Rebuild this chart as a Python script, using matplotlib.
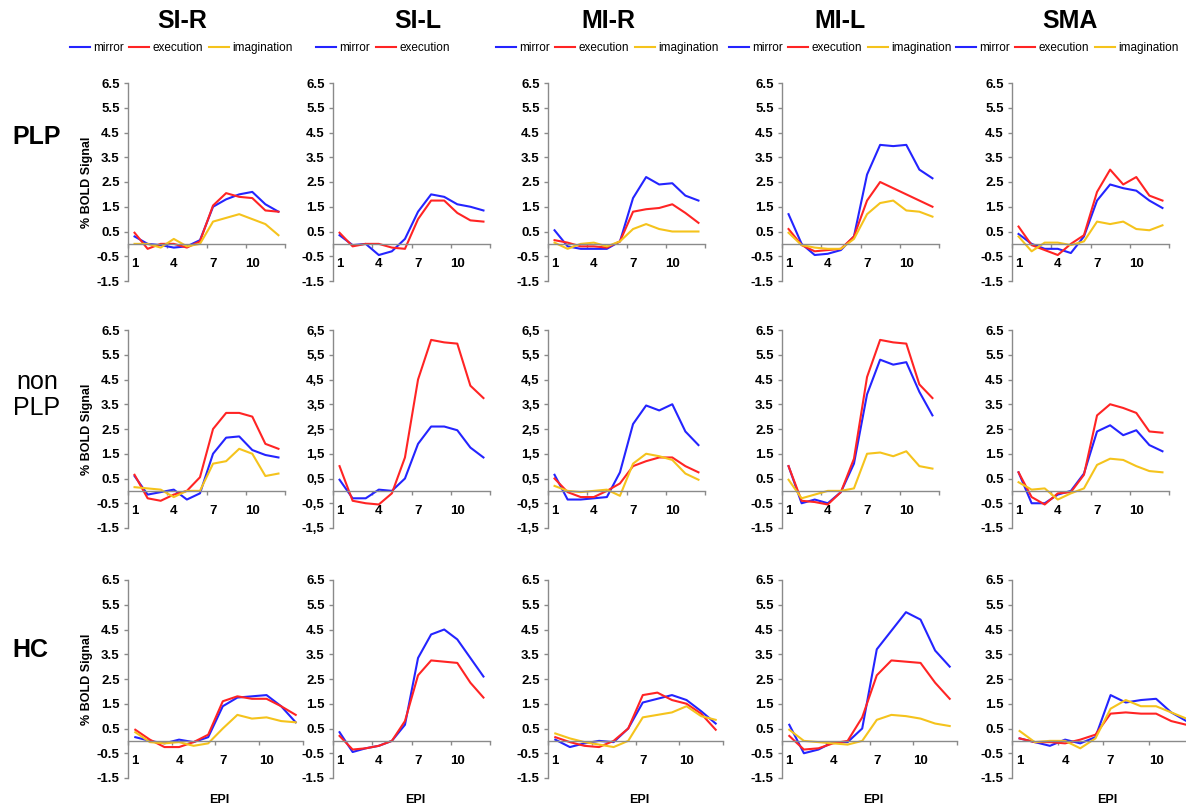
import matplotlib.pyplot as plt
from matplotlib.lines import Line2D

plt.rcParams['font.family'] = ['Liberation Sans', 'DejaVu Sans']

# regions (columns) and groups (rows)
regions = ['SI-R', 'SI-L', 'MI-R', 'MI-L', 'SMA']
groups = ['PLP', 'non\nPLP', 'HC']
epi = list(range(1, 13))
yticks = [-1.5, -0.5, 0.5, 1.5, 2.5, 3.5, 4.5, 5.5, 6.5]

# ---- PLP ----
sir_plp_mirror = [0.3, 0.0, -0.05, -0.15, -0.1, 0.15, 1.5, 1.8, 2.0, 2.1, 1.6, 1.3]
sir_plp_exec = [0.45, -0.2, 0.0, 0.0, -0.15, 0.1, 1.55, 2.05, 1.9, 1.85, 1.35, 1.3]
sir_plp_imag = [0.0, 0.0, -0.15, 0.2, -0.1, 0.0, 0.9, 1.05, 1.2, 1.0, 0.8, 0.35]

sil_plp_mirror = [0.35, -0.05, 0.0, -0.45, -0.3, 0.2, 1.3, 2.0, 1.9, 1.6, 1.5, 1.35]
sil_plp_exec = [0.45, -0.1, 0.0, 0.0, -0.15, -0.2, 1.0, 1.75, 1.75, 1.25, 0.95, 0.9]

mir_plp_mirror = [0.55, -0.1, -0.2, -0.2, -0.2, 0.1, 1.85, 2.7, 2.4, 2.45, 1.95, 1.75]
mir_plp_exec = [0.15, 0.05, -0.1, -0.1, -0.15, 0.1, 1.3, 1.4, 1.45, 1.6, 1.25, 0.85]
mir_plp_imag = [0.05, -0.2, 0.0, 0.05, -0.1, 0.1, 0.6, 0.8, 0.6, 0.5, 0.5, 0.5]

mil_plp_mirror = [1.2, 0.0, -0.45, -0.4, -0.25, 0.3, 2.8, 4.0, 3.95, 4.0, 3.0, 2.65]
mil_plp_exec = [0.6, -0.05, -0.3, -0.25, -0.2, 0.3, 1.75, 2.5, 2.25, 2.0, 1.75, 1.5]
mil_plp_imag = [0.45, -0.05, -0.15, -0.2, -0.2, 0.2, 1.2, 1.65, 1.75, 1.35, 1.3, 1.1]

sma_plp_mirror = [0.4, 0.0, -0.2, -0.2, -0.37, 0.3, 1.75, 2.4, 2.25, 2.15, 1.75, 1.45]
sma_plp_exec = [0.7, -0.05, -0.25, -0.45, 0.0, 0.35, 2.1, 3.0, 2.4, 2.7, 1.95, 1.75]
sma_plp_imag = [0.3, -0.3, 0.05, 0.05, -0.05, 0.1, 0.9, 0.8, 0.9, 0.6, 0.55, 0.75]

# ---- non PLP ----
sir_non_mirror = [0.6, -0.15, -0.05, 0.05, -0.35, -0.1, 1.5, 2.15, 2.2, 1.65, 1.45, 1.35]
sir_non_exec = [0.65, -0.3, -0.4, -0.15, 0.0, 0.55, 2.5, 3.15, 3.15, 3.0, 1.9, 1.7]
sir_non_imag = [0.15, 0.1, 0.05, -0.25, 0.0, 0.0, 1.1, 1.2, 1.7, 1.5, 0.6, 0.7]

sil_non_mirror = [0.45, -0.3, -0.3, 0.05, 0.0, 0.5, 1.9, 2.6, 2.6, 2.45, 1.75, 1.35]
sil_non_exec = [1.0, -0.4, -0.5, -0.55, -0.1, 1.35, 4.5, 6.1, 6.0, 5.95, 4.25, 3.75]

mir_non_mirror = [0.65, -0.35, -0.35, -0.3, -0.25, 0.75, 2.7, 3.45, 3.25, 3.5, 2.4, 1.85]
mir_non_exec = [0.5, -0.05, -0.25, -0.25, 0.0, 0.3, 1.0, 1.2, 1.35, 1.35, 1.0, 0.75]
mir_non_imag = [0.2, 0.0, -0.05, 0.0, 0.05, -0.2, 1.1, 1.5, 1.4, 1.25, 0.7, 0.45]

mil_non_mirror = [1.0, -0.5, -0.35, -0.5, -0.05, 1.1, 3.9, 5.3, 5.1, 5.2, 4.0, 3.05]
mil_non_exec = [1.0, -0.4, -0.45, -0.55, -0.05, 1.3, 4.6, 6.1, 6.0, 5.95, 4.3, 3.75]
mil_non_imag = [0.45, -0.3, -0.15, 0.0, 0.0, 0.1, 1.5, 1.55, 1.4, 1.6, 1.0, 0.9]

sma_non_mirror = [0.75, -0.5, -0.5, -0.15, 0.0, 0.7, 2.4, 2.65, 2.25, 2.45, 1.85, 1.6]
sma_non_exec = [0.75, -0.25, -0.55, -0.1, -0.05, 0.65, 3.05, 3.5, 3.35, 3.15, 2.4, 2.35]
sma_non_imag = [0.35, 0.05, 0.1, -0.35, -0.1, 0.1, 1.05, 1.3, 1.25, 1.0, 0.8, 0.75]

# ---- HC ----
sir_hc_mirror = [0.15, 0.0, -0.1, 0.05, -0.05, 0.15, 1.4, 1.75, 1.8, 1.85, 1.4, 0.75]
sir_hc_exec = [0.45, 0.05, -0.25, -0.25, -0.05, 0.25, 1.6, 1.8, 1.7, 1.7, 1.4, 1.05]
sir_hc_imag = [0.35, -0.05, -0.1, -0.05, -0.2, -0.1, 0.5, 1.05, 0.9, 0.95, 0.8, 0.75]

sil_hc_mirror = [0.35, -0.45, -0.3, -0.2, 0.0, 0.65, 3.35, 4.3, 4.5, 4.1, 3.35, 2.6]
sil_hc_exec = [0.2, -0.35, -0.3, -0.2, 0.0, 0.8, 2.65, 3.25, 3.2, 3.15, 2.35, 1.75]

mir_hc_mirror = [0.05, -0.25, -0.1, 0.0, -0.05, 0.5, 1.55, 1.7, 1.85, 1.65, 1.2, 0.7]
mir_hc_exec = [0.15, -0.05, -0.2, -0.25, 0.0, 0.5, 1.85, 1.95, 1.65, 1.5, 1.1, 0.45]
mir_hc_imag = [0.3, 0.1, -0.05, -0.15, -0.25, 0.0, 0.95, 1.05, 1.15, 1.4, 1.0, 0.85]

mil_hc_mirror = [0.65, -0.5, -0.35, -0.05, -0.05, 0.5, 3.7, 4.45, 5.2, 4.9, 3.65, 3.0]
mil_hc_exec = [0.2, -0.35, -0.3, -0.1, 0.0, 0.95, 2.65, 3.25, 3.2, 3.15, 2.35, 1.7]
mil_hc_imag = [0.45, 0.0, -0.05, -0.1, -0.15, 0.0, 0.85, 1.05, 1.0, 0.9, 0.7, 0.6]

sma_hc_mirror = [0.1, -0.05, -0.2, 0.05, -0.1, 0.15, 1.85, 1.55, 1.65, 1.7, 1.15, 0.8]
sma_hc_exec = [0.1, -0.05, -0.05, -0.1, 0.05, 0.25, 1.1, 1.15, 1.1, 1.1, 0.8, 0.65]
sma_hc_imag = [0.4, -0.05, 0.0, 0.0, -0.3, 0.1, 1.3, 1.65, 1.4, 1.4, 1.15, 0.9]

data = [
    [(sir_plp_mirror, sir_plp_exec, sir_plp_imag), (sil_plp_mirror, sil_plp_exec, None),
     (mir_plp_mirror, mir_plp_exec, mir_plp_imag), (mil_plp_mirror, mil_plp_exec, mil_plp_imag),
     (sma_plp_mirror, sma_plp_exec, sma_plp_imag)],
    [(sir_non_mirror, sir_non_exec, sir_non_imag), (sil_non_mirror, sil_non_exec, None),
     (mir_non_mirror, mir_non_exec, mir_non_imag), (mil_non_mirror, mil_non_exec, mil_non_imag),
     (sma_non_mirror, sma_non_exec, sma_non_imag)],
    [(sir_hc_mirror, sir_hc_exec, sir_hc_imag), (sil_hc_mirror, sil_hc_exec, None),
     (mir_hc_mirror, mir_hc_exec, mir_hc_imag), (mil_hc_mirror, mil_hc_exec, mil_hc_imag),
     (sma_hc_mirror, sma_hc_exec, sma_hc_imag)],
]

colors = ['#2424ff', '#ff2424', '#f5c31c']
names = ['mirror', 'execution', 'imagination']
grey = '#8a8a8a'

# layout in pixels
W, H = 1186, 809
fig = plt.figure(figsize=(W / 100, H / 100), dpi=100)
col_left = [128, 333, 548, 782, 1012]
row_top = [83, 330, 580]
ax_h = 198
widths = [[157, 157, 157, 157, 157],
          [157, 157, 157, 157, 157],
          [175, 157, 175, 175, 182]]
comma_panels = [(1, 1), (1, 2)]

for r in range(3):
    for c in range(5):
        left, top, w = col_left[c], row_top[r], widths[r][c]
        ax = fig.add_axes([left / W, 1 - (top + ax_h) / H, w / W, ax_h / H])
        xpos = [e - 0.5 for e in epi]
        for k, series in enumerate(data[r][c]):
            if series is None:
                continue
            ax.plot(xpos, series, color=colors[k], lw=1.5, solid_joinstyle='round')
        ax.set_xlim(0, 12)
        ax.set_ylim(-1.5, 6.5)
        for s in ['top', 'right']:
            ax.spines[s].set_visible(False)
        ax.spines['bottom'].set_position(('data', 0))
        for s in ['left', 'bottom']:
            ax.spines[s].set_color(grey)
            ax.spines[s].set_linewidth(1.0)
        ax.set_yticks(yticks)
        if (r, c) in comma_panels:
            ax.set_yticklabels([('%.1f' % v).replace('.', ',') for v in yticks])
        else:
            ax.set_yticklabels(['%.1f' % v for v in yticks])
        ax.set_xticks([0, 3, 6, 9, 12])
        ax.set_xticklabels([])
        ax.set_xticks([0.5, 3.5, 6.5, 9.5], minor=True)
        ax.set_xticklabels(['1', '4', '7', '10'], minor=True)
        ax.tick_params(axis='y', length=3, width=1, color=grey, pad=3, labelsize=9.5)
        ax.tick_params(axis='x', which='major', length=3, width=1, color=grey, direction='out')
        ax.tick_params(axis='x', which='minor', length=0, pad=10, labelsize=9.5)
        for lab in ax.get_yticklabels() + ax.get_xticklabels(minor=True):
            lab.set_fontweight('bold')
        ax.patch.set_alpha(0)
        if c == 0:
            ax.set_ylabel('% BOLD Signal', fontsize=9, fontweight='bold', labelpad=3)
        if r == 2:
            fig.text((left + w / 2 + 4) / W, 1 - 800 / H, 'EPI', ha='center', va='center',
                     fontsize=9, fontweight='bold')

# column titles and legends
title_x = [182, 418, 608, 840, 1070]
legend_x = [181, 383, 607, 840, 1067]
for c, reg in enumerate(regions):
    fig.text(title_x[c] / W, 1 - 21 / H, reg, ha='center', va='center',
             fontsize=18, fontweight='bold')
    n = 2 if c == 1 else 3
    handles = [Line2D([], [], color=colors[k], lw=1.5) for k in range(n)]
    fig.legend(handles, names[:n], loc='center', bbox_to_anchor=(legend_x[c] / W, 1 - 48 / H),
               ncol=n, frameon=False, fontsize=8.5, handlelength=1.7, handletextpad=0.25,
               columnspacing=0.5, borderpad=0, borderaxespad=0)

# row labels
fig.text(12 / W, 1 - 137 / H, 'PLP', ha='left', va='center', fontsize=18, fontweight='bold')
fig.text(37 / W, 1 - 395 / H, 'non\nPLP', ha='center', va='center', fontsize=18,
         multialignment='center', linespacing=1.15)
fig.text(12 / W, 1 - 650 / H, 'HC', ha='left', va='center', fontsize=18, fontweight='bold')

fig.savefig('out.png', dpi=100)
